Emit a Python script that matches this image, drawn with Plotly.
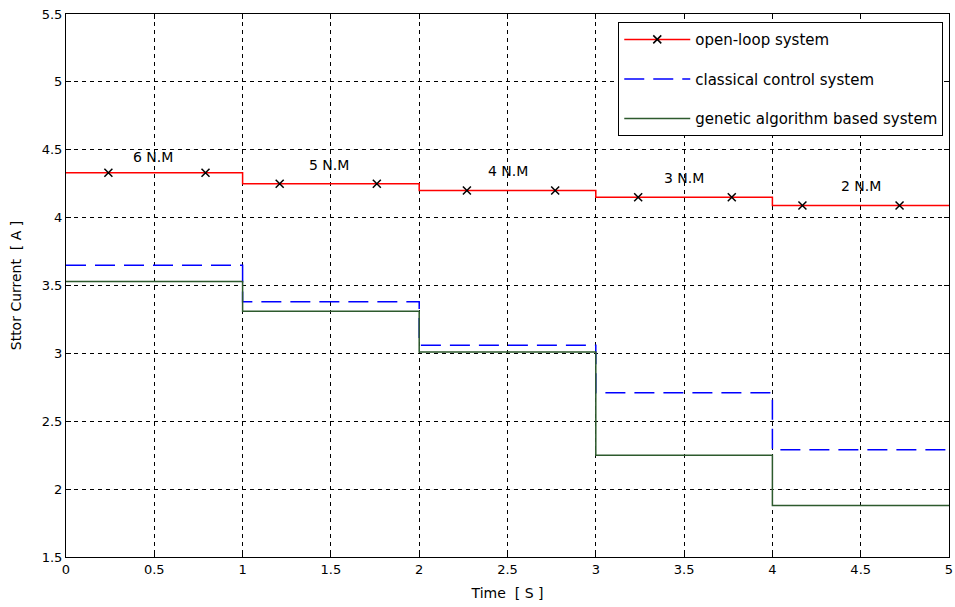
import plotly.graph_objects as go

# ---- data ----
step_times = [0, 1, 2, 3, 4, 5]
open_loop = [4.33, 4.25, 4.20, 4.15, 4.09]
classical = [3.65, 3.38, 3.06, 2.71, 2.29]
genetic = [3.53, 3.31, 3.01, 2.25, 1.88]
marker_times = [0.24, 0.79, 1.21, 1.76, 2.27, 2.77, 3.24, 3.77, 4.17, 4.72]
torque_labels = ["6 N.M", "5 N.M", "4 N.M", "3 N.M", "2 N.M"]
torque_label_x = [0.49, 1.49, 2.5, 3.5, 4.5]
torque_label_y = [4.45, 4.39, 4.34, 4.29, 4.23]
x_ticks = [0, 0.5, 1, 1.5, 2, 2.5, 3, 3.5, 4, 4.5, 5]
y_ticks = [1.5, 2, 2.5, 3, 3.5, 4, 4.5, 5, 5.5]

def stepped(vals):
    return vals + [vals[-1]]

def level_at(t, vals):
    idx = min(int(t), len(vals) - 1)
    return vals[idx]

FONT = "DejaVu Sans, Liberation Sans, Arial, sans-serif"

fig = go.Figure()

fig.add_trace(go.Scatter(x=step_times, y=stepped(open_loop), mode="lines",
                         line=dict(color="#ff0000", width=1.5, shape="hv"),
                         showlegend=False, hoverinfo="skip"))
fig.add_trace(go.Scatter(x=marker_times, y=[level_at(t, open_loop) for t in marker_times],
                         mode="markers",
                         marker=dict(symbol="x-thin", size=8, color="black",
                                     line=dict(color="black", width=1.5)),
                         showlegend=False))
fig.add_trace(go.Scatter(x=[None], y=[None], mode="lines+markers",
                         name="open-loop system", legendgroup="a",
                         line=dict(color="#ff0000", width=1.5),
                         marker=dict(symbol="x-thin", size=8, color="black",
                                     line=dict(color="black", width=1.5))))
fig.add_trace(go.Scatter(x=step_times, y=stepped(classical), mode="lines",
                         name="classical control system", legendgroup="b",
                         line=dict(color="#0000ff", width=1.5, shape="hv", dash="20px,9px")))
fig.add_trace(go.Scatter(x=step_times, y=stepped(genetic), mode="lines",
                         name="genetic algorithm based system", legendgroup="c",
                         line=dict(color="#2d5a2d", width=1.5, shape="hv")))

for lab, lx, ly in zip(torque_labels, torque_label_x, torque_label_y):
    fig.add_annotation(x=lx, y=ly, text=lab, showarrow=False,
                       font=dict(family=FONT, size=14, color="black"))

axis_common = dict(showline=True, linecolor="black", linewidth=1, mirror="ticks",
                   ticks="inside", ticklen=5, tickcolor="black",
                   showgrid=True, gridcolor="black", gridwidth=1, griddash="4px,4px",
                   zeroline=False, automargin=False, ticklabeloverflow="allow",
                   tickfont=dict(family=FONT, size=13, color="black"))

fig.update_xaxes(range=[0, 5], tickvals=x_ticks, ticktext=[f"{v:g}" for v in x_ticks],
                 title=dict(text="Time  [ S ]", font=dict(family=FONT, size=14, color="black"),
                            standoff=12), **axis_common)
fig.update_yaxes(range=[1.5, 5.5], tickvals=y_ticks, ticktext=[f"{v:g}" for v in y_ticks],
                 title=dict(text="Sttor Current  [ A ]", font=dict(family=FONT, size=14, color="black"),
                            standoff=16), **axis_common)

fig.update_layout(
    width=955, height=607,
    margin=dict(l=66, r=6, t=14, b=50),
    plot_bgcolor="white", paper_bgcolor="white",
    font=dict(family=FONT, size=13, color="black"),
    legend=dict(x=0.9935, y=0.985, xanchor="right", yanchor="top",
                bgcolor="white", bordercolor="black", borderwidth=1,
                traceorder="grouped", tracegroupgap=17,
                font=dict(family=FONT, size=15, color="black"),
                itemwidth=66),
)

fig.write_html("out.html", config={"displayModeBar": False},
               post_script="document.body.style.margin='0';document.body.style.overflow='hidden';")
